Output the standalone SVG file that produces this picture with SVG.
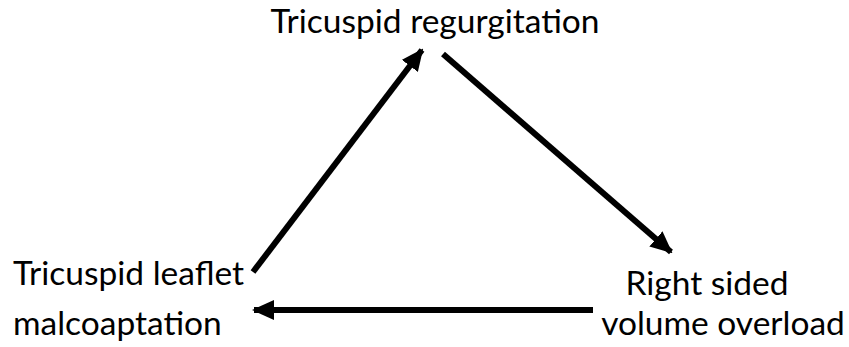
<svg xmlns="http://www.w3.org/2000/svg" width="849" height="347" viewBox="0 0 849 347">
<style>
text{font-family:Lato,"Open Sans","Liberation Sans",sans-serif;font-size:33.5px;fill:#000}
.c{stroke:#000;stroke-width:6;fill:none}
</style>
<defs>
<marker id="ah" markerUnits="userSpaceOnUse" markerWidth="22" markerHeight="20" refX="20" refY="10" orient="auto">
<path d="M0,0 L22,10 L0,20 Z" fill="#000"/>
</marker>
</defs>
<rect width="849" height="347" fill="#fff"/>
<g id="n-top"><text x="435" y="33" text-anchor="middle">Tricuspid regurgitation</text></g>
<g id="n-left"><text x="13" y="285">Tricuspid leaflet</text><text x="13" y="335">malcoaptation</text></g>
<g id="n-right"><text x="707" y="295" text-anchor="middle">Right sided</text><text x="723" y="335" text-anchor="middle">volume overload</text></g>
<g id="connectors">
<line class="c" x1="253" y1="272" x2="422" y2="50" marker-end="url(#ah)"/>
<line class="c" x1="443" y1="54" x2="671" y2="252" marker-end="url(#ah)"/>
<line class="c" x1="593" y1="310" x2="254" y2="310" marker-end="url(#ah)"/>
</g>
</svg>
